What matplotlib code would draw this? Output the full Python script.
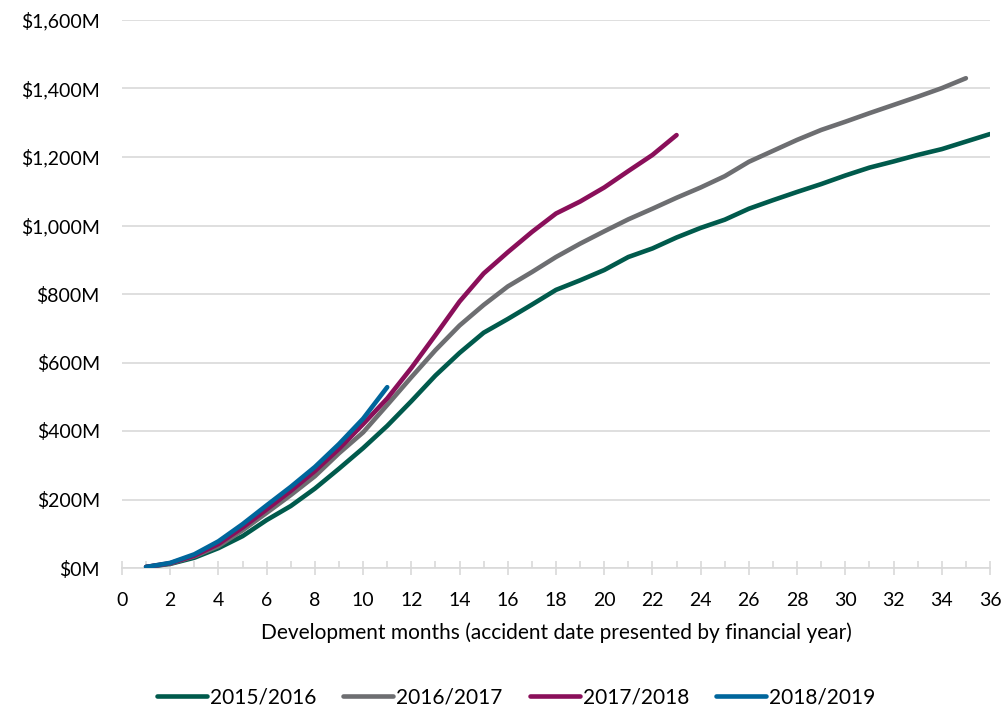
import matplotlib
matplotlib.use("Agg")
import matplotlib.pyplot as plt
from matplotlib.ticker import MultipleLocator, FuncFormatter

plt.rcParams['font.family'] = ['Lato', 'DejaVu Sans']

# Cumulative claims cost ($M) by development month, per accident financial year
months_1516 = list(range(1, 37))
cost_1516 = [3, 12, 30, 58, 93, 140, 181, 232, 290, 350, 415, 487, 562, 628, 687, 727,
             769, 812, 840, 870, 908, 933, 965, 993, 1017, 1049, 1074, 1098, 1121,
             1146, 1169, 1187, 1206, 1223, 1245, 1267]

months_1617 = list(range(1, 36))
cost_1617 = [3, 13, 34, 64, 110, 161, 213, 268, 335, 396, 476, 557, 636, 708, 768, 822,
             864, 908, 947, 983, 1018, 1049, 1081, 1111, 1144, 1186, 1218, 1250, 1279,
             1303, 1328, 1352, 1376, 1401, 1430]

months_1718 = list(range(1, 24))
cost_1718 = [3, 14, 36, 70, 118, 171, 225, 283, 348, 420, 495, 584, 680, 778, 860, 922,
             981, 1035, 1070, 1111, 1159, 1206, 1264]

months_1819 = list(range(1, 12))
cost_1819 = [3, 15, 40, 78, 128, 183, 237, 295, 362, 436, 528]

series_labels = ["2015/2016", "2016/2017", "2017/2018", "2018/2019"]
series_colors = ["#005A4C", "#6D6E71", "#8A0F5A", "#00669C"]

W, H = 1003, 707
fig = plt.figure(figsize=(W / 100, H / 100), dpi=100)
ax = fig.add_axes([122 / W, 1 - 568 / H, (990 - 122) / W, (568 - 20) / H])

series = [(months_1516, cost_1516), (months_1617, cost_1617),
          (months_1718, cost_1718), (months_1819, cost_1819)]
for (m, c), lab, col in zip(series, series_labels, series_colors):
    ax.plot(m, c, color=col, lw=3.3, label=lab, solid_capstyle='round',
            solid_joinstyle='round', zorder=3)

ax.set_xlim(0, 36)
ax.set_ylim(0, 1600)
ax.xaxis.set_major_locator(MultipleLocator(2))
ax.xaxis.set_minor_locator(MultipleLocator(1))
ax.yaxis.set_major_locator(MultipleLocator(200))
ax.yaxis.set_major_formatter(FuncFormatter(lambda v, p: f"${v:,.0f}M"))

ax.grid(axis='y', color='#D9D9D9', lw=1.2, zorder=0)
for s in ['top', 'right', 'left']:
    ax.spines[s].set_visible(False)
ax.spines['bottom'].set_color('#D9D9D9')
ax.spines['bottom'].set_linewidth(1.2)

ax.tick_params(axis='y', length=0, labelsize=14, pad=16, colors='#000000')
ax.tick_params(axis='x', which='major', direction='inout', length=10, width=1.2,
               color='#D9D9D9', labelsize=14, pad=12)
ax.tick_params(axis='x', which='minor', direction='in', length=5, width=1.2,
               color='#D9D9D9')

ax.set_xlabel("Development months (accident date presented by financial year)",
              fontsize=15, labelpad=10)

fig.legend(loc='center', bbox_to_anchor=(516 / W, 10 / H), ncol=4, frameon=False,
           fontsize=15, handlelength=2.4, handletextpad=0.15, columnspacing=1.3,
           borderpad=0, borderaxespad=0)

fig.savefig("out.png", dpi=100, facecolor='white')
